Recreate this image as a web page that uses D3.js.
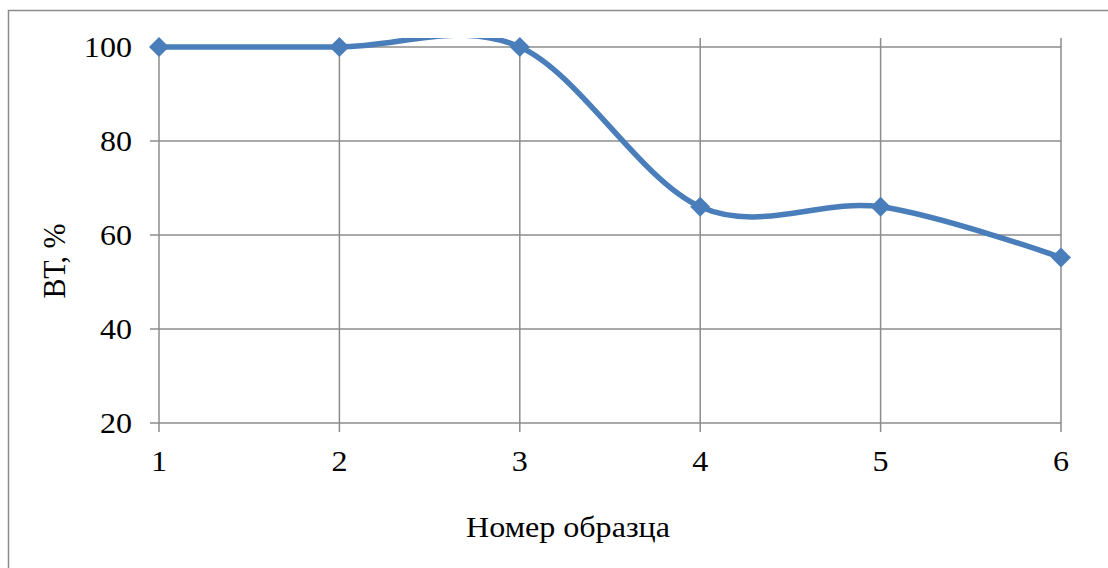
<!DOCTYPE html>
<html>
<head>
<meta charset="utf-8">
<script src="https://cdn.jsdelivr.net/npm/d3@7"></script>
<style>
  html, body { margin: 0; padding: 0; background: #fff; }
  svg { display: block; }
  text { font-family: "Liberation Serif", "Times New Roman", serif; fill: #000; }
</style>
</head>
<body>
<svg id="chart" width="1108" height="568"></svg>
<script>
// Sample numbers and measured BT values
const samples = [1, 2, 3, 4, 5, 6];
const btValues = [100, 100, 100, 66, 66, 55.2];
const yTicks = [20, 40, 60, 80, 100];
const xTitle = "Номер образца";
const yTitle = "ВТ, %";

const svg = d3.select("#chart");
const W = 1108, H = 568;

const plot = { left: 159, right: 1061, top: 38 };
const x = d3.scaleLinear().domain([1, 6]).range([plot.left, plot.right]);
const y = d3.scaleLinear().domain([20, 100]).range([423, 47]);
const gridColor = "#8c8c8c";
const stretch = 1.07; // text is set slightly wide

// Outer chart frame (runs past the right and bottom edges)
svg.append("rect")
  .attr("x", 8.5).attr("y", 10.5)
  .attr("width", W + 20).attr("height", H + 20)
  .attr("fill", "none").attr("stroke", gridColor).attr("stroke-width", 1.5);

// Horizontal gridlines with left tick marks
svg.append("g").selectAll("line").data(yTicks).join("line")
  .attr("x1", plot.left - 9).attr("x2", plot.right)
  .attr("y1", d => y(d)).attr("y2", d => y(d))
  .attr("stroke", gridColor).attr("stroke-width", 1.5);

// Vertical gridlines with bottom tick marks
svg.append("g").selectAll("line").data(samples).join("line")
  .attr("x1", d => x(d)).attr("x2", d => x(d))
  .attr("y1", plot.top).attr("y2", y(20) + 9)
  .attr("stroke", gridColor).attr("stroke-width", 1.5);

// Y tick labels
svg.append("g").selectAll("text").data(yTicks).join("text")
  .attr("transform", d => `translate(132,${y(d)}) scale(${stretch},1)`)
  .attr("dy", "0.34em")
  .attr("text-anchor", "end")
  .attr("font-size", 30)
  .text(d => d);

// X tick labels
svg.append("g").selectAll("text").data(samples).join("text")
  .attr("transform", d => `translate(${x(d)},471) scale(${stretch},1)`)
  .attr("text-anchor", "middle")
  .attr("font-size", 30)
  .text(d => d);

// Axis titles
svg.append("text")
  .attr("transform", `translate(568,537) scale(${stretch},1)`)
  .attr("text-anchor", "middle")
  .attr("font-size", 30)
  .text(xTitle);

svg.append("text")
  .attr("transform", `translate(65,261) scale(${stretch},1) rotate(-90)`)
  .attr("text-anchor", "middle")
  .attr("font-size", 30)
  .text(yTitle);

// Clip the smoothed line to the plot area
svg.append("clipPath").attr("id", "plot-clip")
  .append("rect")
  .attr("x", 0).attr("y", plot.top)
  .attr("width", W).attr("height", H);

const pts = samples.map((s, i) => [s, btValues[i]]);
const line = d3.line()
  .x(d => x(d[0]))
  .y(d => y(d[1]))
  .curve(d3.curveCardinal.tension(0));

const blue = "#4a7ebb";
svg.append("path")
  .datum(pts)
  .attr("clip-path", "url(#plot-clip)")
  .attr("d", line)
  .attr("fill", "none")
  .attr("stroke", blue)
  .attr("stroke-width", 5.5)
  .attr("stroke-linejoin", "round");

// Diamond markers
svg.append("g").selectAll("path").data(pts).join("path")
  .attr("transform", d => `translate(${x(d[0])},${y(d[1])})`)
  .attr("d", "M0,-10L10,0L0,10L-10,0Z")
  .attr("fill", blue);
</script>
</body>
</html>
